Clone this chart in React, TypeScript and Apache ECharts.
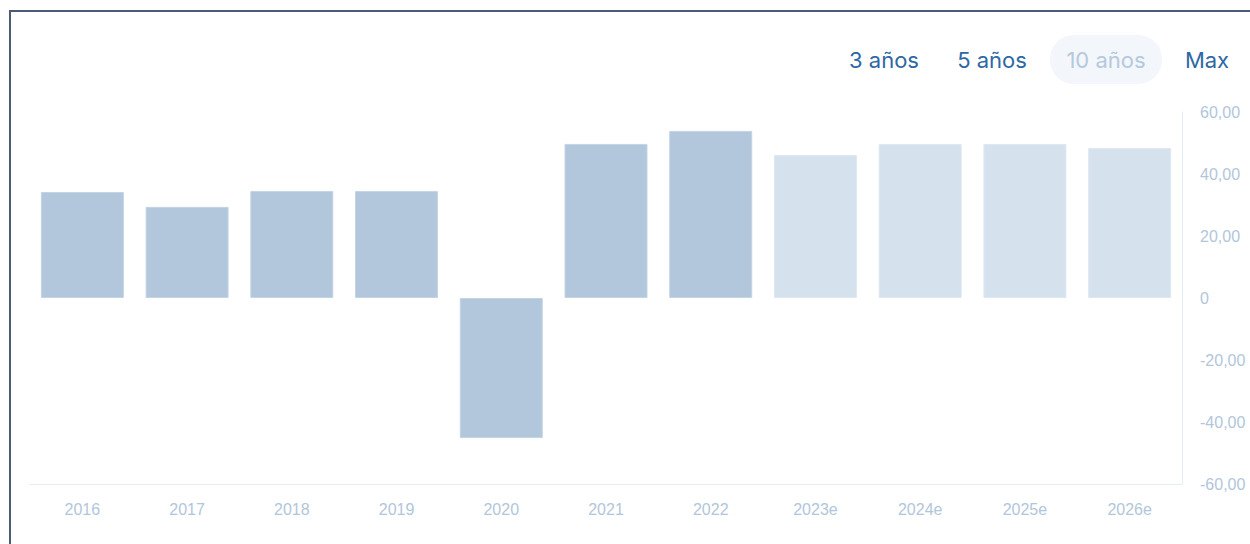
import React, { useEffect, useRef } from "react";
import * as echarts from "echarts";

const categories = ["2016", "2017", "2018", "2019", "2020", "2021", "2022", "2023e", "2024e", "2025e", "2026e"];
const values = [34.2, 29.4, 34.5, 34.5, -45.2, 49.7, 53.9, 46.1, 49.7, 49.7, 48.4];
const isEstimate = [false, false, false, false, false, false, false, true, true, true, true];
const rangeButtons = ["3 años", "5 años", "10 años", "Max"];
const activeButton = "10 años";
const yTicks = { min: -60, max: 60, interval: 20 };

export default function App() {
  const ref = useRef<HTMLDivElement>(null);
  useEffect(() => {
    const chart = echarts.init(ref.current!, null, { renderer: "svg" });
    const btnCenters = [884, 992, 1106, 1207];
    const graphics: any[] = [
      { type: "line", shape: { x1: 10, y1: 11, x2: 1250, y2: 11 }, style: { stroke: "#4b5a76", lineWidth: 2 } },
      { type: "line", shape: { x1: 10, y1: 10, x2: 10, y2: 544 }, style: { stroke: "#4b5a76", lineWidth: 2 } },
      { type: "rect", shape: { x: 1050, y: 35, width: 112, height: 49, r: 24 }, style: { fill: "#f3f6fa" } },
    ];
    rangeButtons.forEach((b, i) => {
      graphics.push({
        type: "text",
        x: btnCenters[i],
        y: 60,
        style: {
          text: b,
          fill: b === activeButton ? "#b5c9de" : "#2e68a4",
          font: "22px Inter, 'Liberation Sans', sans-serif",
          align: "center",
          verticalAlign: "middle",
        },
      });
    });
    chart.setOption({
      animation: false,
      grid: { left: 30, right: 68, top: 112, bottom: 60 },
      graphic: graphics,
      xAxis: {
        type: "category",
        data: categories,
        axisLine: { show: true, onZero: false, lineStyle: { color: "#e4ecf5" } },
        axisTick: { show: false },
        axisLabel: { color: "#b2c6db", fontSize: 16, margin: 17, fontFamily: "'Liberation Sans', Arial, sans-serif" },
      },
      yAxis: {
        type: "value",
        position: "right",
        min: yTicks.min,
        max: yTicks.max,
        interval: yTicks.interval,
        axisLine: { show: true, lineStyle: { color: "#e4ecf5" } },
        axisTick: { show: false },
        splitLine: { show: false },
        axisLabel: {
          color: "#b2c6db",
          fontSize: 16,
          margin: 18,
          fontFamily: "'Liberation Sans', Arial, sans-serif",
          formatter: (v: number) => (v === 0 ? "0" : v.toFixed(2).replace(".", ",")),
        },
      },
      series: [
        {
          type: "bar",
          barWidth: 83,
          data: values.map((v, i) => ({
            value: v,
            itemStyle: {
              color: isEstimate[i] ? "#d5e2ee" : "#b2c7dc",
              borderColor: isEstimate[i] ? "#dde8f2" : "#c3d4e5",
              borderWidth: 1,
            },
          })),
        },
      ],
    });
    return () => chart.dispose();
  }, []);
  return <div ref={ref} style={{ position: "fixed", left: 0, top: 0, width: 1250, height: 544, background: "#fff" }} />;
}
